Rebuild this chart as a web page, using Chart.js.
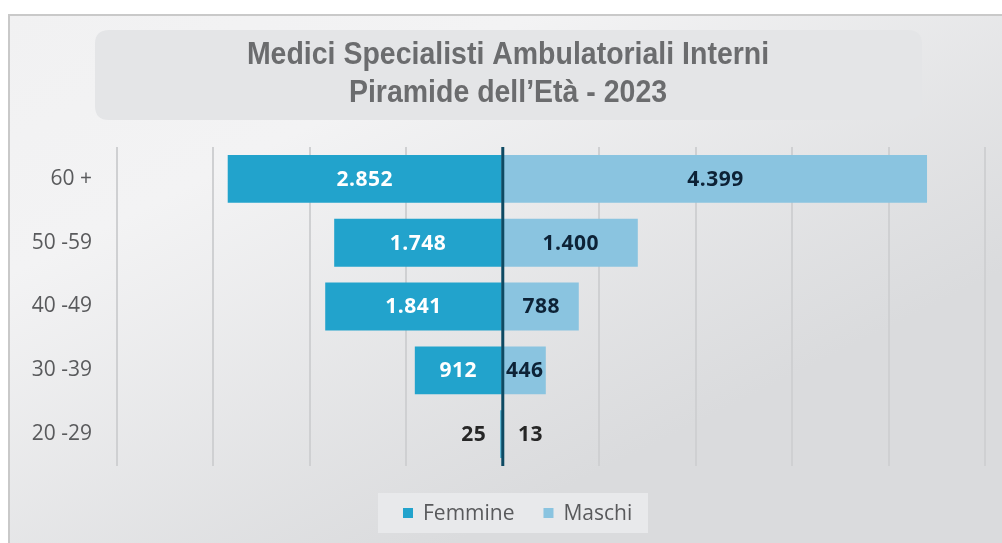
<!DOCTYPE html>
<html>
<head>
<meta charset="utf-8">
<script src="https://cdn.jsdelivr.net/npm/chart.js@4.4.1/dist/chart.umd.min.js"></script>
<style>
html,body{margin:0;padding:0;background:#fff;}
#wrap{width:1002px;height:543px;}
</style>
</head>
<body>
<div id="wrap"><canvas id="c" width="1002" height="543"></canvas></div>
<script>
const categories = ['60 +', '50 -59', '40 -49', '30 -39', '20 -29'];
const femmine = [2852, 1748, 1841, 912, 25];
const maschi = [4399, 1400, 788, 446, 13];
const seriesNames = ['Femmine', 'Maschi'];
const titleLines = ['Medici Specialisti Ambulatoriali Interni', 'Piramide dell\u2019Et\u00e0 - 2023'];
const xTicksMin = -4000, xTicksMax = 5000, xStep = 1000;

const colF = '#22a3cc';
const colM = '#8ac4e0';

function fmt(n){ return String(n).replace(/\B(?=(\d{3})+(?!\d))/g, '.'); }

function rrect(ctx, x, y, w, h, r){
  ctx.beginPath();
  ctx.moveTo(x+r, y);
  ctx.lineTo(x+w-r, y); ctx.quadraticCurveTo(x+w, y, x+w, y+r);
  ctx.lineTo(x+w, y+h-r); ctx.quadraticCurveTo(x+w, y+h, x+w-r, y+h);
  ctx.lineTo(x+r, y+h); ctx.quadraticCurveTo(x, y+h, x, y+h-r);
  ctx.lineTo(x, y+r); ctx.quadraticCurveTo(x, y, x+r, y);
  ctx.closePath();
}

const decor = {
  id: 'decor',
  beforeDraw(chart){
    const ctx = chart.ctx;
    ctx.save();
    ctx.fillStyle = '#ffffff';
    ctx.fillRect(0, 0, chart.width, chart.height);
    const g = ctx.createLinearGradient(0, 15, 300, 620);
    g.addColorStop(0, '#f1f1f2');
    g.addColorStop(0.35, '#f3f3f4');
    g.addColorStop(1, '#dadbdd');
    ctx.fillStyle = g;
    ctx.fillRect(9, 15, chart.width - 9, chart.height - 15);
    ctx.strokeStyle = '#c9c9c9';
    ctx.lineWidth = 2;
    ctx.beginPath();
    ctx.moveTo(9, chart.height); ctx.lineTo(9, 15); ctx.lineTo(chart.width, 15);
    ctx.stroke();
    // title box
    ctx.fillStyle = '#e4e5e7';
    rrect(ctx, 95, 30, 827, 90, 14);
    ctx.fill();
    ctx.fillStyle = '#6b6c6e';
    ctx.font = 'bold 32px "Liberation Sans", sans-serif';
    ctx.textAlign = 'center';
    ctx.textBaseline = 'alphabetic';
    ctx.save();
    ctx.translate(508, 0);
    ctx.scale(0.89, 1);
    ctx.fillText(titleLines[0], 0, 64);
    ctx.fillText(titleLines[1], 0, 102);
    ctx.restore();
    // legend box
    ctx.fillStyle = '#e8e9eb';
    ctx.fillRect(378, 493, 270, 40);
    ctx.font = '21px "Open Sans", sans-serif';
    ctx.textAlign = 'left';
    ctx.textBaseline = 'middle';
    const ds = chart.data.datasets;
    let x = 403;
    ds.forEach((d, i) => {
      ctx.fillStyle = d.backgroundColor;
      ctx.fillRect(x, 508, 10, 10);
      ctx.fillStyle = '#595a5c';
      ctx.fillText(d.label, x + 20, 514);
      x += 20 + ctx.measureText(d.label).width + 29;
    });
    ctx.restore();
  },
  afterDatasetsDraw(chart){
    const ctx = chart.ctx;
    const xs = chart.scales.x;
    const ca = chart.chartArea;
    const x0 = xs.getPixelForValue(0);
    ctx.save();
    ctx.strokeStyle = '#0e4a63';
    ctx.lineWidth = 3;
    ctx.beginPath();
    ctx.moveTo(x0, ca.top);
    ctx.lineTo(x0, ca.bottom);
    ctx.stroke();
    // data labels
    ctx.font = 'bold 21px "Open Sans", sans-serif';
    try { ctx.letterSpacing = '0.5px'; } catch(e) {}
    ctx.textBaseline = 'middle';
    chart.data.datasets.forEach((d, di) => {
      const meta = chart.getDatasetMeta(di);
      meta.data.forEach((el, i) => {
        const v = Math.abs(d.data[i]);
        const txt = fmt(v);
        const w = ctx.measureText(txt).width;
        const barW = Math.abs(el.x - el.base);
        if (barW > w) {
          ctx.textAlign = 'center';
          ctx.fillStyle = di === 0 ? '#ffffff' : '#0d2236';
          ctx.fillText(txt, (el.x + el.base) / 2, el.y + 1);
        } else {
          ctx.fillStyle = '#262626';
          if (di === 0) { ctx.textAlign = 'right'; ctx.fillText(txt, el.x - 14, el.y + 1); }
          else { ctx.textAlign = 'left'; ctx.fillText(txt, el.x + 14, el.y + 1); }
        }
      });
    });
    ctx.restore();
  }
};

new Chart(document.getElementById('c'), {
  type: 'bar',
  data: {
    labels: categories,
    datasets: [
      { label: seriesNames[0], data: femmine.map(v => -v), backgroundColor: colF },
      { label: seriesNames[1], data: maschi, backgroundColor: colM }
    ]
  },
  options: {
    indexAxis: 'y',
    responsive: false,
    animation: false,
    devicePixelRatio: 1,
    layout: { padding: { left: 0, right: 17, top: 147, bottom: 77 } },
    datasets: { bar: { barPercentage: 0.75, categoryPercentage: 1.0 } },
    plugins: { legend: { display: false }, title: { display: false }, tooltip: { enabled: false } },
    scales: {
      x: {
        stacked: true,
        min: xTicksMin, max: xTicksMax,
        ticks: { display: false, stepSize: xStep },
        grid: { color: '#cfd0d2', lineWidth: 2, drawTicks: false },
        border: { display: false },
        afterFit(s){ s.height = 0; }
      },
      y: {
        stacked: true,
        ticks: { color: '#595a5c', font: { family: '"Open Sans", sans-serif', size: 21 }, padding: 25 },
        grid: { display: false, drawTicks: false },
        border: { display: false },
        afterFit(s){ s.width = 117; }
      }
    }
  },
  plugins: [decor]
});
</script>
</body>
</html>
